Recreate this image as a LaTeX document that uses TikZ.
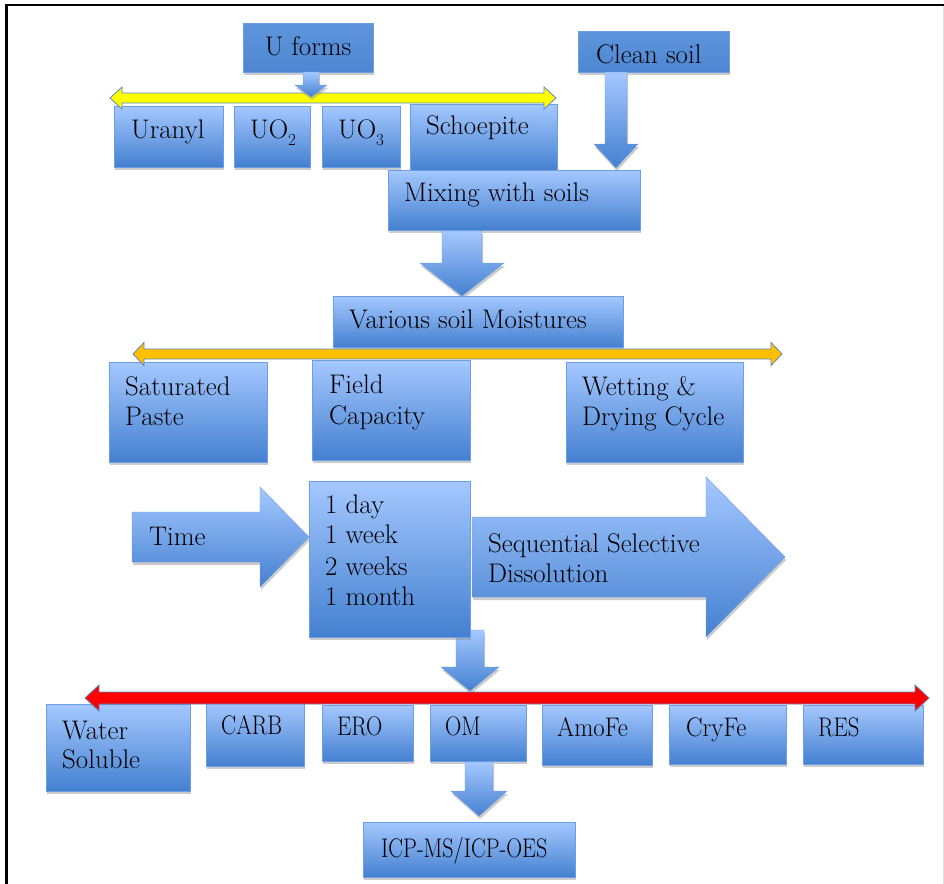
\documentclass[tikz,border=0pt]{standalone}
\usetikzlibrary{shadows}
\definecolor{boxtop}{HTML}{A5C8FF}
\definecolor{boxbot}{HTML}{4480D0}
\definecolor{boxline}{HTML}{6C9EE3}
\definecolor{flattop}{HTML}{5E95DC}
\definecolor{flatbot}{HTML}{4E86D2}
\definecolor{arrline}{HTML}{5B86C0}
\definecolor{yel}{HTML}{FFFF00}
\definecolor{ora}{HTML}{FFC000}
\definecolor{redd}{HTML}{FF0000}
\tikzset{
  shad/.style={drop shadow={shadow xshift=1bp, shadow yshift=-3bp, fill=black!45, opacity=0.45}},
  bluebox/.style={shad, rectangle, inner sep=0pt, outer sep=0pt, top color=boxtop, bottom color=boxbot, draw=boxline, line width=0.6bp},
  flatbox/.style={shad, rectangle, inner sep=0pt, outer sep=0pt, top color=flattop, bottom color=flatbot, draw=boxline, line width=0.6bp},
  blockarrow/.style={shad, top color=boxtop, bottom color=boxbot, draw=boxline, line width=0.4bp},
  lbl/.style={inner sep=0pt, text height=17bp, text depth=0bp, font=\fontsize{27}{33}\selectfont},
  dbl/.style={draw=arrline, line width=0.8bp, fill=#1, line join=miter}
}
\newcommand\mybox[6][bluebox]{\node[#1, anchor=north west, minimum width={(#5-#3)*1bp}, minimum height={(#6-#4)*1bp}] (#2) at (#3,#4) {};}
\newcommand\darrow[6]{\path[blockarrow] (#1-#4,#2) -- (#1+#4,#2) -- (#1+#4,#3-#6) -- (#1+#5,#3-#6) -- (#1,#3) -- (#1-#5,#3-#6) -- (#1-#4,#3-#6) -- cycle;}
\newcommand\rarrow[6]{\path[blockarrow] (#1,#3-#4) -- (#2-#6,#3-#4) -- (#2-#6,#3-#5) -- (#2,#3) -- (#2-#6,#3+#5) -- (#2-#6,#3+#4) -- (#1,#3+#4) -- cycle;}
\newcommand\dblarrow[7]{\path[dbl=#7] (#1,#3) -- (#1+#6,#3-#5) -- (#1+#6,#3-#4) -- (#2-#6,#3-#4) -- (#2-#6,#3-#5) -- (#2,#3) -- (#2-#6,#3+#5) -- (#2-#6,#3+#4) -- (#1+#6,#3+#4) -- (#1+#6,#3+#5) -- cycle;}
\newcommand\subs[1]{\raisebox{-0.25em}{\fontsize{17}{17}\selectfont #1}}
\newcommand\narrow[1]{\scalebox{0.84}[1]{#1}}
\begin{document}
\begin{tikzpicture}[x=1bp,y=-1bp]
\useasboundingbox (0,0) rectangle (944,884);
\fill[white] (0,0) rectangle (944,884);
% frame
\draw[black!12, line width=1bp] (943.5,5) -- (943.5,884);
\draw[black, line width=2.5bp] (6.5,884) -- (6.5,5) -- (944,5);

% top row
\mybox{schoe}{410}{104}{557}{172}
\mybox{uranyl}{114}{106}{223}{167}
\mybox{uoo}{234}{106}{310}{167}
\mybox{uooo}{322}{106}{400}{167}
\dblarrow{110}{556}{98}{5}{11}{12}{yel}
\mybox[flatbox]{uforms}{243}{23}{373}{72}
\darrow{311}{72}{97}{8}{16}{12}
\mybox[flatbox]{clean}{578}{31}{729}{72}
\darrow{616}{72}{168}{11}{22}{24}
\mybox{mixing}{388}{170}{640}{230}
\darrow{462}{231}{296}{20}{42}{33}

% moisture row
\mybox{various}{333}{296}{623}{347}
\mybox{sat}{109}{362}{267}{462}
\mybox{field}{312}{360}{470}{460}
\mybox{wet}{566}{362}{743}{462}
\dblarrow{133}{782}{354}{5}{11.5}{11}{ora}

% time row
\rarrow{132}{309}{537}{25}{50}{49}
\rarrow{472}{785}{557}{40}{80}{79}
\darrow{470}{630}{691}{14}{29}{24}
\mybox{timebox}{309}{481}{470}{637}

% bottom row
\mybox{water}{46}{704}{190}{791}
\mybox{carb}{206}{702}{304}{766}
\mybox{ero}{322}{705}{413}{761}
\mybox{om}{430}{705}{526}{761}
\mybox{amofe}{542}{705}{652}{765}
\mybox{cryfe}{669}{705}{786}{764}
\mybox{res}{803}{705}{923}{764}
\dblarrow{85}{929}{698}{6}{13}{14}{redd}
\darrow{479}{762}{816}{14}{28}{25}
\mybox{icp}{363}{822}{575}{877}

% labels
\node[lbl] (tuforms) at (308,47) {U forms};
\node[lbl, anchor=west] (turanyl) at (131,130) {Uranyl};
\node[lbl, anchor=west] (tuoo) at (250,130) {UO\subs{2}};
\node[lbl, anchor=west] (tuooo) at (338,130) {UO\subs{3}};
\node[lbl, anchor=west] (tschoe) at (426,126) {Schoepite};
\node[lbl, anchor=west] (tclean) at (596,55) {Clean soil};
\node[lbl, anchor=west] (tmixing) at (404,193) {Mixing with soils};
\node[lbl, anchor=west] (tvarious) at (349,320) {Various soil Moistures};
\node[lbl, anchor=west] (tsat1) at (125,387) {Saturated};
\node[lbl, anchor=west] (tsat2) at (125,417) {Paste};
\node[lbl, anchor=west] (tfield1) at (329,385) {Field};
\node[lbl, anchor=west] (tfield2) at (329,416) {Capacity};
\node[lbl, anchor=west] (twet1) at (582,387) {Wetting \&};
\node[lbl, anchor=west] (twet2) at (582,417) {Drying Cycle};
\node[lbl, anchor=west] (ttime) at (149,537) {Time};
\node[lbl, anchor=west] (td1) at (325,505) {1 day};
\node[lbl, anchor=west] (td2) at (325,535) {1 week};
\node[lbl, anchor=west] (td3) at (325,567) {2 weeks};
\node[lbl, anchor=west] (td4) at (325,597) {1 month};
\node[lbl, anchor=west] (tseq1) at (488,544) {Sequential Selective};
\node[lbl, anchor=west] (tseq2) at (488,574) {Dissolution};
\node[lbl, anchor=west] (twater1) at (62,731) {Water};
\node[lbl, anchor=west] (twater2) at (62,760) {Soluble};
\node[lbl, anchor=west] (tcarb) at (221,726) {\narrow{CARB}};
\node[lbl, anchor=west] (tero) at (337,727) {\narrow{ERO}};
\node[lbl, anchor=west] (tom) at (445,727) {\narrow{OM}};
\node[lbl, anchor=west] (tamofe) at (557,728) {\scalebox{0.92}[1]{AmoFe}};
\node[lbl, anchor=west] (tcryfe) at (686,728) {\scalebox{0.92}[1]{CryFe}};
\node[lbl, anchor=west] (tres) at (818,728) {\narrow{RES}};
\node[lbl, anchor=west] (ticp) at (381,849) {\scalebox{0.82}[1]{ICP-MS/ICP-OES}};
\end{tikzpicture}
\end{document}
